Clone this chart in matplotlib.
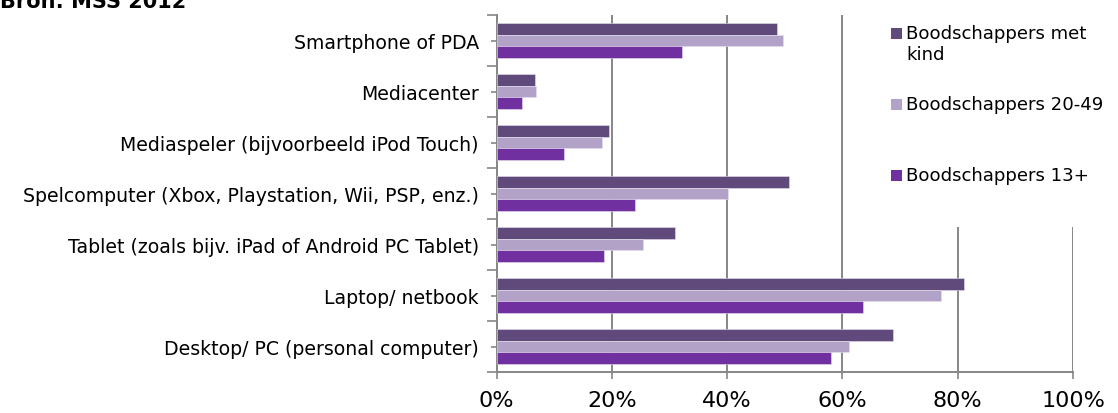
import matplotlib
matplotlib.use('Agg')
import matplotlib.pyplot as plt
import numpy as np
from matplotlib.patches import Rectangle

categories = ['Desktop/ PC (personal computer)',
              'Laptop/ netbook',
              'Tablet (zoals bijv. iPad of Android PC Tablet)',
              'Spelcomputer (Xbox, Playstation, Wii, PSP, enz.)',
              'Mediaspeler (bijvoorbeeld iPod Touch)',
              'Mediacenter',
              'Smartphone of PDA']
met_kind = [68.8, 81.0, 30.9, 50.7, 19.4, 6.6, 48.7]
b20_49 = [61.1, 77.1, 25.3, 40.1, 18.2, 6.9, 49.7]
b13plus = [58.0, 63.6, 18.7, 24.0, 11.6, 4.4, 32.1]
series_names = ['Boodschappers met\nkind', 'Boodschappers 20-49', 'Boodschappers 13+']
colors = ['#604A7B', '#B3A2C7', '#7030A0']
xticks = [0, 20, 40, 60, 80, 100]

fig = plt.figure(figsize=(11.18, 4.14), dpi=100)
ax = fig.add_axes([496.7/1118, 1-373/414, (1073-496.7)/1118, (373-16)/414])

y = np.arange(len(categories))
h = 0.228
for i, (vals, col) in enumerate(zip([met_kind, b20_49, b13plus], colors)):
    ax.barh(y + (1 - i) * h, vals, height=h, color=col, edgecolor='#E6E0EE',
            linewidth=0.4, label=series_names[i], zorder=3)

ax.set_xlim(0, 100)
ax.set_ylim(-0.5, len(categories) - 0.5)
ax.set_xticks(xticks)
ax.set_xticklabels([f'{t}%' for t in xticks], fontsize=16)
ax.set_yticks(y)
ax.set_yticklabels(categories, fontsize=13.6)
ax.set_yticks(np.arange(len(categories) + 1) - 0.5, minor=True)
ax.tick_params(axis='y', which='major', length=4, color='#868686', width=1.2, pad=9)
ax.tick_params(axis='y', which='minor', length=7, color='#868686', width=1.2)
ax.tick_params(axis='x', length=5, color='#868686', width=1.2, pad=8)
ax.grid(axis='x', color='#868686', linewidth=1.4, zorder=0)
ax.set_axisbelow(True)
for s in ['top', 'right']:
    ax.spines[s].set_visible(False)
for s in ['left', 'bottom']:
    ax.spines[s].set_color('#868686')
    ax.spines[s].set_linewidth(1.4)

# white area behind the legend, covering the gridlines
fig.patches.append(Rectangle((868/1118, 1-228/414), 1-868/1118, 228/414,
                             transform=fig.transFigure, facecolor='white',
                             edgecolor='none', zorder=1))

# legend entries (Excel-style spacing)
leg_tops = [28, 99, 170]
for name, col, top in zip(series_names, colors, leg_tops):
    fig.patches.append(Rectangle((891/1118, 1-(top+12)/414), 11/1118, 11/414,
                                 transform=fig.transFigure, facecolor=col,
                                 edgecolor='none', zorder=2))
    fig.text(906/1118, 1-(top-3)/414, name, fontsize=13.1, va='top', ha='left',
             linespacing=1.25, zorder=2)

fig.text(0.0, 1-8/414, 'Bron: MSS 2012', fontsize=15, fontweight='bold', va='baseline')

fig.savefig('out.png', dpi=100)
